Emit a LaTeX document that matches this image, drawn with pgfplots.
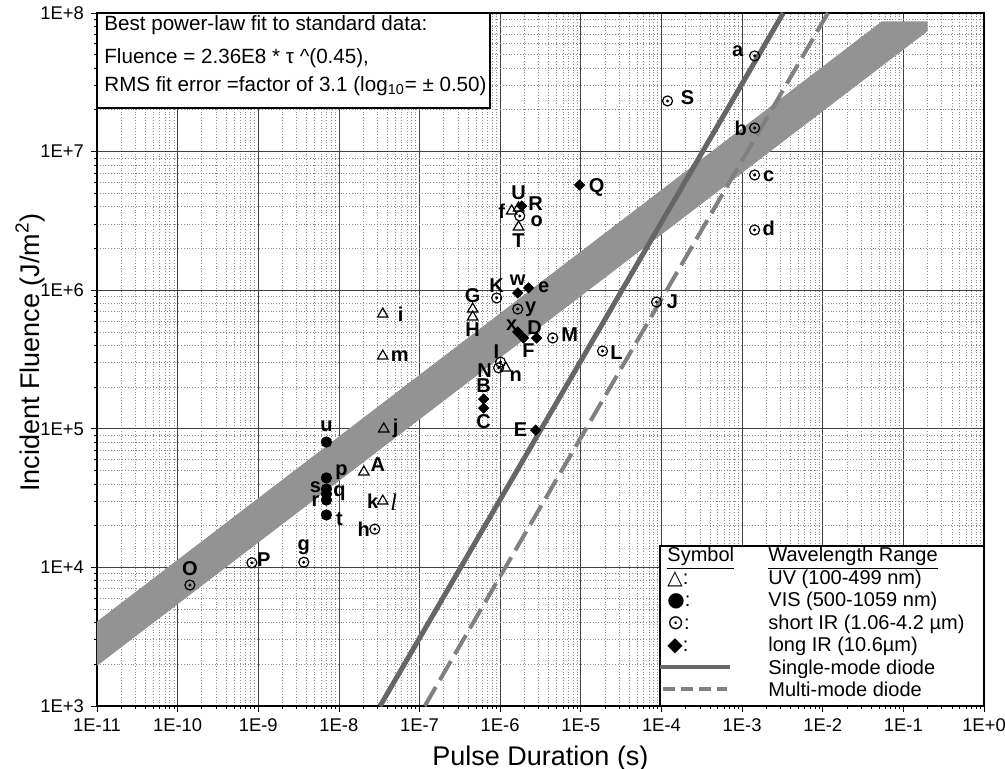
\documentclass[border=0pt]{standalone}
\usepackage{pgfplots}
\pgfplotsset{compat=1.18}
\usepackage{pgfplotstable}
\usepackage{fontspec}
\setmainfont{Liberation Sans}
\newfontfamily\symfont{DejaVu Sans}
\newfontfamily\serfont{Liberation Serif}

% short IR (circle with dot)
\pgfplotstableread{
x y lab dx dy
1.43e-3 4.90e7 a -8.5 2.5
1.19e-4 2.32e7 S 10 1.5
1.43e-3 1.48e7 b -7 0
1.43e-3 6.78e6 c 7 -0.5
1.43e-3 2.72e6 d 7 1
8.69e-5 8.22e5 J 8 0
1.86e-5 3.64e5 L 7 -1
4.48e-6 4.52e5 M 8.5 1.5
1.65e-6 7.31e5 y 6.5 0
9.05e-7 8.79e5 K 0 6
1.01e-6 3.03e5 I -2 5
9.57e-7 2.75e5 N -7 -1.5
1.42e-10 7.46e3 O 0 8
8.34e-10 1.08e4 P 6 1.5
3.67e-9 1.09e4 g 0 7.5
2.79e-8 1.89e4 h -5.5 0
1.75e-6 3.43e6 o 8.5 -2.5
}\shortir

% UV (open triangle)
\pgfplotstableread{
x y lab dx dy
1.39e-6 3.73e6 f -5 0
1.69e-6 3.92e6 U 0 7.5
1.69e-6 2.86e6 T 0 -7
4.56e-7 7.31e5 G 0 6.5
4.56e-7 6.41e5 H 0 -6.5
3.50e-8 6.73e5 i 9 0
3.50e-8 3.35e5 m 8.5 0
3.60e-8 9.98e4 j 6 0.5
2.04e-8 4.88e4 A 7 3.5
3.50e-8 3.01e4 k -5 0
1.17e-6 2.75e5 n 5 -4
}\uvdata

% VIS (filled circle)
\pgfplotstableread{
x y lab dx dy
7.0e-9 8.03e4 u 0 8
7.0e-9 4.42e4 p 7.5 3
7.0e-9 3.68e4 s -5.5 1
7.0e-9 3.39e4 q 6.5 0.5
7.0e-9 3.06e4 r -5.5 -0.5
7.0e-9 2.39e4 t 6.5 -2
}\visdata

% long IR (diamond)
\pgfplotstableread{
x y lab dx dy
9.66e-6 5.74e6 Q 8.5 -1
1.85e-6 4.05e6 R 7 1
1.65e-6 9.55e5 w 0 6.5
2.25e-6 1.04e6 e 7.5 0.5
1.65e-6 4.99e5 x -3 3.5
1.95e-6 4.52e5 F 2.5 -6.5
2.83e-6 4.52e5 D -1 5
6.24e-7 1.64e5 B 0 6.5
6.24e-7 1.41e5 C 0 -6.5
2.75e-6 9.79e4 E -7.5 0
}\longir

\pgfplotsset{
  lbl/.style={
    nodes near coords,
    point meta=explicit symbolic,
    visualization depends on={\thisrow{dx} \as \lbldx},
    visualization depends on={\thisrow{dy} \as \lbldy},
    every node near coord/.append style={anchor=center, xshift=\lbldx pt, yshift=\lbldy pt,
      font=\fontsize{10}{12}\selectfont\bfseries, inner sep=0pt, text=black}
  }
}

\begin{document}
\begin{tikzpicture}
\begin{axis}[
  scale only axis, width=443.5pt, height=346.5pt,
  xmode=log, ymode=log,
  xmin=1e-11, xmax=1, ymin=1e3, ymax=1e8,
  xtick={1e-11,1e-10,1e-9,1e-8,1e-7,1e-6,1e-5,1e-4,1e-3,1e-2,1e-1,1},
  xticklabels={1E-11,1E-10,1E-9,1E-8,1E-7,1E-6,1E-5,1E-4,1E-3,1E-2,1E-1,1E+0},
  ytick={1e3,1e4,1e5,1e6,1e7,1e8},
  yticklabels={1E+3,1E+4,1E+5,1E+6,1E+7,1E+8},
  grid=both,
  major grid style={black!75, line width=0.4pt},
  minor grid style={black!45, densely dotted, line width=0.4pt},
  axis line style={line width=0.9pt},
  tick pos=left, tick align=outside,
  major tick length=3pt, minor tick length=1.5pt,
  tick style={black, line width=0.4pt},
  tick label style={font=\fontsize{9.2}{11}\selectfont},
  /pgf/number format/assume math mode=true,
  xlabel={Pulse Duration (s)},
  ylabel={Incident Fluence (J/m\textsuperscript{2})},
  xlabel style={at={(axis description cs:0.5,0)}, anchor=base, yshift=-29.5pt, font=\fontsize{13.5}{16}\selectfont},
  ylabel style={at={(axis description cs:-0.0755,0.51)}, anchor=center, font=\fontsize{13.5}{16}\selectfont},
]
% fit band
\addplot[fill=gray!85, draw=none, forget plot] coordinates {
  (1e-11,1950) (1e-11,4070) (0.054,8.7e7) (0.2,8.7e7) (0.2,7.4e7)};
% diode lines
\addplot[black!60, line width=2.5pt, forget plot] coordinates {(3.24e-8,1e3) (3.24e-3,1e8)};
\addplot[black!50, line width=2pt, dash pattern=on 11pt off 4pt, forget plot] coordinates {(1.16e-7,1e3) (1.16e-2,1e8)};
% data
\addplot[only marks, mark=o, mark size=2.5pt, mark options={line width=0.6pt, fill=white}, black, lbl] table[x=x, y=y, meta=lab] {\shortir};
\addplot[only marks, mark=*, mark size=0.55pt, black] table[x=x, y=y] {\shortir};
\addplot[only marks, mark=triangle, mark size=3pt, mark options={line width=0.6pt}, black, lbl] table[x=x, y=y, meta=lab] {\uvdata};
\addplot[only marks, mark=*, mark size=2.6pt, black, lbl] table[x=x, y=y, meta=lab] {\visdata};
\addplot[only marks, mark=square*, mark size=1.8pt, mark options={rotate=45}, black, lbl] table[x=x, y=y, meta=lab] {\longir};
\node[font=\fontsize{12}{14}\selectfont\serfont\itshape, inner sep=0pt, xshift=5.5pt, yshift=-0.5pt] at (axis cs:3.5e-8,3.01e4) {l};
\end{axis}

% fit text box
\draw[line width=1.2pt, fill=white] (current axis.north west) rectangle ++(196.5pt,-47.5pt);
\begin{scope}[every node/.style={anchor=base west, inner sep=0pt, font=\fontsize{10.3}{12}\selectfont}]
\node at ([shift={(3.5pt,-8.5pt)}]current axis.north west) {Best power-law fit to standard data:};
\node at ([shift={(3.5pt,-25pt)}]current axis.north west) {Fluence = 2.36E8 * τ \^{}(0.45),};
\node at ([shift={(3.5pt,-39pt)}]current axis.north west) {RMS fit error =factor of 3.1 (log\textsubscript{10}= ± 0.50)};
\end{scope}

% legend box
\draw[line width=1.2pt, fill=white] (current axis.south east) rectangle ++(-162pt,80pt);
\begin{scope}[every node/.style={anchor=base west, inner sep=0pt, font=\fontsize{10}{12}\selectfont}]
\node at ([shift={(-158.5pt,72.5pt)}]current axis.south east) {\underline{Symbol}};
\node at ([shift={(-108pt,72.5pt)}]current axis.south east) {\underline{Wavelength Range}};
\node at ([shift={(-158.5pt,61pt)}]current axis.south east) {{\symfont △}:};
\node at ([shift={(-158.5pt,50pt)}]current axis.south east) {{\symfont ●}:};
\node at ([shift={(-158.5pt,38.5pt)}]current axis.south east) {{\symfont ⊙}:};
\node at ([shift={(-158.5pt,27.5pt)}]current axis.south east) {{\symfont ◆}:};
\node at ([shift={(-108pt,61pt)}]current axis.south east) {UV (100-499 nm)};
\node at ([shift={(-108pt,50pt)}]current axis.south east) {VIS (500-1059 nm)};
\node at ([shift={(-108pt,38.5pt)}]current axis.south east) {short IR (1.06-4.2 µm)};
\node at ([shift={(-108pt,27.5pt)}]current axis.south east) {long IR (10.6µm)};
\node at ([shift={(-108pt,16pt)}]current axis.south east) {Single-mode diode};
\node at ([shift={(-108pt,5pt)}]current axis.south east) {Multi-mode diode};
\end{scope}
\draw[black!60, line width=2pt] ([shift={(-162pt,19.5pt)}]current axis.south east) -- ++(35pt,0);
\draw[black!50, line width=2pt, dash pattern=on 6pt off 3pt] ([shift={(-160.5pt,8.5pt)}]current axis.south east) -- ++(32pt,0);

\pgfresetboundingbox
\path (current axis.south west) ++(-48.5pt,-31pt) rectangle ++(502.5pt,384pt);
\end{tikzpicture}
\end{document}
